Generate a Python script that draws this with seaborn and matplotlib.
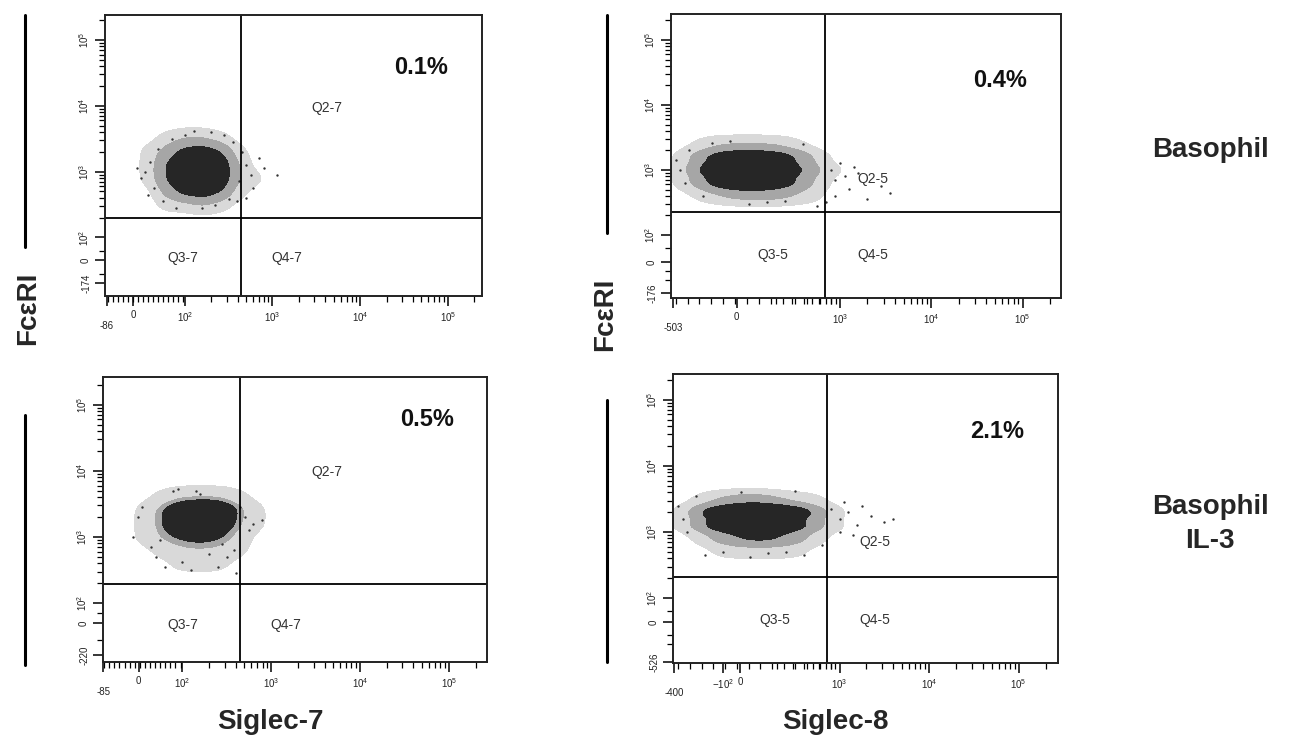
import numpy as np
import pandas as pd
import matplotlib
matplotlib.use("Agg")
import matplotlib.pyplot as plt
import seaborn as sns
from matplotlib.colors import ListedColormap

sns.set_theme(style="ticks")
plt.rcParams['font.family'] = ['Liberation Sans', 'DejaVu Sans']
plt.rcParams['mathtext.fontset'] = 'custom'
plt.rcParams['mathtext.rm'] = 'Liberation Sans'

# ---------------- DATA (axis units: decades of a logicle-like display) -------------
# Coarse density grids of each event cloud (rows top->bottom)
tl_gx = [1.6, 1.8, 2.0, 2.2, 2.4, 2.6, 2.8]
tl_gy = [3.5, 3.3, 3.1, 2.9, 2.7, 2.5]
tl_dens = [[0, 1, 2, 2, 1, 0, 0],
           [1, 3, 6, 7, 5, 1, 0],
           [1, 5, 9, 10, 8, 2, 0],
           [1, 5, 9, 10, 8, 2, 1],
           [0, 3, 6, 7, 5, 1, 0],
           [0, 1, 1, 2, 1, 0, 0]]
tl_ox = [1.55, 1.5, 1.6, 1.65, 2.7, 2.75, 2.9, 3.05, 2.7, 2.6, 2.3, 2.45, 1.9, 2.2, 2.85,
         1.45, 1.7, 1.75, 2.55, 2.65, 2.0, 2.35, 1.58, 2.78, 2.1, 1.85, 2.5, 2.62]
tl_oy = [3.0, 2.9, 3.15, 2.75, 3.1, 2.95, 3.05, 2.95, 2.6, 2.55, 3.6, 3.55, 2.45, 2.45, 3.2,
         3.05, 3.35, 2.55, 3.45, 3.3, 3.55, 2.5, 2.65, 2.75, 3.62, 3.5, 2.58, 2.85]

tr_gx = [1.3, 1.5, 1.7, 1.9, 2.1, 2.3, 2.5, 2.7, 2.9]
tr_gy = [3.4, 3.2, 3.0, 2.8, 2.6]
tr_dens = [[0, 1, 2, 2, 2, 2, 1, 0, 0],
           [1, 4, 7, 8, 8, 7, 5, 2, 0],
           [1, 6, 9, 10, 10, 9, 6, 3, 1],
           [1, 4, 7, 8, 8, 7, 5, 2, 0],
           [0, 1, 2, 3, 3, 3, 2, 1, 0]]
tr_ox = [2.9, 2.95, 3.05, 3.1, 3.2, 3.45, 3.55, 2.95, 1.25, 1.3, 3.0, 3.3, 2.85, 1.2,
         1.35, 1.5, 2.2, 2.4, 1.8, 2.6, 2.75, 3.15, 1.6, 2.0]
tr_oy = [3.0, 2.85, 2.9, 2.7, 2.95, 2.75, 2.65, 2.6, 3.0, 2.8, 3.1, 2.55, 2.5, 3.15,
         3.3, 2.6, 2.5, 2.52, 3.45, 3.4, 2.45, 3.05, 3.42, 2.48]

bl_gx = [1.6, 1.8, 2.0, 2.2, 2.4, 2.6, 2.8]
bl_gy = [3.6, 3.4, 3.2, 3.0, 2.8, 2.6]
bl_dens = [[0, 1, 2, 2, 2, 1, 0],
           [1, 4, 8, 10, 9, 4, 1],
           [1, 4, 8, 10, 8, 3, 1],
           [1, 3, 4, 5, 4, 2, 0],
           [0, 1, 2, 2, 2, 1, 0],
           [0, 0, 1, 1, 1, 0, 0]]
bl_ox = [1.5, 1.45, 2.7, 2.75, 2.8, 1.8, 2.1, 2.4, 2.5, 1.7, 2.9, 2.2, 1.9, 2.6,
         1.55, 1.65, 2.0, 2.3, 2.45, 2.58, 1.95, 2.15, 2.65, 1.75]
bl_oy = [3.3, 3.0, 3.3, 3.1, 3.2, 2.55, 2.5, 2.55, 2.7, 2.7, 3.25, 3.65, 3.7, 2.45,
         3.45, 2.85, 2.62, 2.75, 2.9, 2.8, 3.72, 3.7, 3.45, 2.95]

br_gx = [1.3, 1.5, 1.7, 1.9, 2.1, 2.3, 2.5, 2.7, 2.9]
br_gy = [3.5, 3.3, 3.1, 2.9, 2.7]
br_dens = [[0, 1, 2, 3, 3, 2, 1, 1, 0],
           [1, 5, 8, 9, 10, 9, 7, 4, 1],
           [1, 4, 7, 8, 9, 8, 6, 3, 1],
           [0, 1, 3, 4, 5, 4, 3, 1, 0],
           [0, 0, 1, 1, 1, 1, 1, 0, 0]]
br_ox = [2.9, 3.0, 3.1, 3.2, 3.35, 3.5, 3.6, 3.0, 3.15, 1.25, 1.3, 1.5, 1.7, 2.4,
         1.2, 1.4, 2.0, 2.2, 2.6, 2.8, 3.25, 3.05, 1.9, 2.5]
br_oy = [3.35, 3.2, 3.3, 3.1, 3.25, 3.15, 3.2, 3.0, 2.95, 3.2, 3.0, 2.65, 2.7, 2.7,
         3.4, 3.55, 2.62, 2.68, 2.65, 2.8, 3.4, 3.45, 3.6, 3.62]

percents = ["0.1%", "0.4%", "0.5%", "2.1%"]
quad_left = ["Q2-7", "Q3-7", "Q4-7"]
quad_right = ["Q2-5", "Q3-5", "Q4-5"]
row_labels = ["Basophil", "Basophil\nIL-3"]
x_titles = ["Siglec-7", "Siglec-8"]
y_title = "FcεRI"

# x tick labels per panel
tl_xlabels = ["\n-86", "0", "$10^2$", "$10^3$", "$10^4$", "$10^5$"]
tr_xlabels = ["\n-503", "0", "$10^3$", "$10^4$", "$10^5$"]
bl_xlabels = ["\n-85", "0", "$10^2$", "$10^3$", "$10^4$", "$10^5$"]
br_xlabels = ["\n-400", "$-10^2$", "0", "$10^3$", "$10^4$", "$10^5$"]
tl_ylabels = ["-174", "0", "$10^2$", "$10^3$", "$10^4$", "$10^5$"]
tr_ylabels = ["-176", "0", "$10^2$", "$10^3$", "$10^4$", "$10^5$"]
bl_ylabels = ["-220", "0", "$10^2$", "$10^3$", "$10^4$", "$10^5$"]
br_ylabels = ["-526", "0", "$10^2$", "$10^3$", "$10^4$", "$10^5$"]

# ---------------- LAYOUT ----------------
W, H = 1306, 745
fig = plt.figure(figsize=(W / 100, H / 100), dpi=100)
fig.patch.set_facecolor("white")


def px_rect(l, r, t, b):
    return [l / W, 1 - b / H, (r - l) / W, (b - t) / H]


panels = [
    dict(rect=px_rect(105, 482, 15, 296), xlim=(1.09, 5.39), ylim=(1.11, 5.38),
         gx=tl_gx, gy=tl_gy, dens=tl_dens, ox=tl_ox, oy=tl_oy, gate=(2.64, 2.30),
         xt=[1.11, 1.41, 2, 3, 4, 5], xl=tl_xlabels, yt=[1.30, 1.65, 2, 3, 4, 5], yl=tl_ylabels,
         pct=percents[0], pct_pos=(4.70, 4.58), quads=quad_left,
         qpos=[(3.62, 3.97), (1.98, 1.68), (3.16, 1.68)], lowx=(1.12, 1.98, 16), lowy=[1.3, 1.45, 1.65, 1.8]),
    dict(rect=px_rect(671, 1061, 14, 298), xlim=(1.15, 5.42), ylim=(1.03, 5.40),
         gx=tr_gx, gy=tr_gy, dens=tr_dens, ox=tr_ox, oy=tr_oy, gate=(2.84, 2.35),
         xt=[1.17, 1.87, 3, 4, 5], xl=tr_xlabels, yt=[1.11, 1.58, 2, 3, 4, 5], yl=tr_ylabels,
         pct=percents[1], pct_pos=(4.75, 4.38), quads=quad_right,
         qpos=[(3.36, 2.86), (2.27, 1.69), (3.36, 1.69)], lowx=(1.2, 2.9, 14), lowy=[1.11, 1.3, 1.45, 1.58, 1.8]),
    dict(rect=px_rect(103, 487, 377, 662), xlim=(1.107, 5.43), ylim=(1.11, 5.42),
         gx=bl_gx, gy=bl_gy, dens=bl_dens, ox=bl_ox, oy=bl_oy, gate=(2.65, 2.29),
         xt=[1.11, 1.51, 2, 3, 4, 5], xl=bl_xlabels, yt=[1.21, 1.70, 2, 3, 4, 5], yl=bl_ylabels,
         pct=percents[2], pct_pos=(4.76, 4.77), quads=quad_left,
         qpos=[(3.63, 3.98), (2.0, 1.67), (3.17, 1.67)], lowx=(1.12, 1.98, 16), lowy=[1.21, 1.45, 1.70, 1.85]),
    dict(rect=px_rect(673, 1058, 374, 663), xlim=(1.14, 5.44), ylim=(1.02, 5.39),
         gx=br_gx, gy=br_gy, dens=br_dens, ox=br_ox, oy=br_oy, gate=(2.86, 2.32),
         xt=[1.15, 1.70, 1.89, 3, 4, 5], xl=br_xlabels, yt=[1.03, 1.64, 2, 3, 4, 5], yl=br_ylabels,
         pct=percents[3], pct_pos=(4.76, 4.52), quads=quad_right,
         qpos=[(3.39, 2.85), (2.28, 1.67), (3.39, 1.67)], lowx=(1.2, 2.9, 14), lowy=[1.03, 1.3, 1.45, 1.64, 1.8]),
]

cloud_cmap = ListedColormap(["#d9d9d9", "#a6a6a6", "#5e5e5e", "#262626", "#000000"])


def log_minor(lo, hi, n0, n1):
    vals = [n + np.log10(k) for n in range(n0, n1 + 1) for k in range(2, 10)]
    return [v for v in vals if lo < v < hi]


for p in panels:
    ax = fig.add_axes(p["rect"])
    ax.set_facecolor("white")
    X, Y = np.meshgrid(p["gx"], p["gy"])
    df = pd.DataFrame({"x": X.ravel(), "y": Y.ravel(),
                       "w": np.asarray(p["dens"], float).ravel()})
    df = df[df["w"] > 0]
    sns.kdeplot(data=df, x="x", y="y", weights="w", fill=True,
                levels=[0.03, 0.08, 0.16, 0.27, 0.4, 1.0], cmap=cloud_cmap,
                bw_adjust=0.75, ax=ax)
    sns.scatterplot(x=p["ox"], y=p["oy"], s=3, color="#333333", linewidth=0, ax=ax)

    gxv, gyv = p["gate"]
    ax.axvline(gxv, color="black", lw=1.3)
    ax.axhline(gyv, color="black", lw=1.3)
    ax.set_xlim(*p["xlim"])
    ax.set_ylim(*p["ylim"])
    ax.set_xlabel("")
    ax.set_ylabel("")

    ax.set_xticks(p["xt"], p["xl"])
    ax.set_yticks(p["yt"], p["yl"])
    lx0, lx1, nlx = p["lowx"]
    xmin = list(np.linspace(lx0, lx1, nlx)) + log_minor(2, p["xlim"][1], 2, 5)
    ymin = list(p["lowy"]) + log_minor(2, p["ylim"][1], 2, 5)
    ax.set_xticks(xmin, minor=True)
    ax.set_yticks(ymin, minor=True)
    ax.tick_params(axis="both", which="major", direction="out", length=7, width=1.1,
                   labelsize=7, color="black", labelcolor="#222222", pad=3)
    ax.tick_params(axis="both", which="minor", direction="out", length=4, width=0.9,
                   color="black")
    ax.tick_params(axis="y", labelrotation=90)
    for lab in ax.get_yticklabels():
        lab.set_verticalalignment("center")
    for sp in ax.spines.values():
        sp.set_visible(True)
        sp.set_linewidth(1.4)
        sp.set_color("#222222")

    ax.text(*p["pct_pos"], p["pct"], fontsize=17, fontweight="bold",
            ha="center", va="center", color="#111111")
    for q, (qx, qy) in zip(p["quads"], p["qpos"]):
        ax.text(qx, qy, q, fontsize=10, ha="center", va="center", color="#333333")


def ftext(x, y, s, **kw):
    fig.text(x / W, 1 - y / H, s, **kw)


# axis titles
ftext(270, 722, x_titles[0], fontsize=20, fontweight="bold", ha="center", va="center")
ftext(835, 722, x_titles[1], fontsize=20, fontweight="bold", ha="center", va="center")
ftext(28, 308, y_title, fontsize=20, fontweight="bold", ha="center", va="center", rotation=90)
ftext(605, 314, y_title, fontsize=20, fontweight="bold", ha="center", va="center", rotation=90)
ftext(1210, 150, row_labels[0], fontsize=20, fontweight="bold", ha="center", va="center")
ftext(1210, 524, row_labels[1], fontsize=20, fontweight="bold", ha="center", va="center",
      linespacing=1.4)

# decorative vertical bars beside y axes
for (x, y0, y1) in [(25, 15, 247), (25, 415, 665), (607, 15, 233), (607, 400, 662)]:
    fig.add_artist(plt.Line2D([x / W, x / W], [1 - y0 / H, 1 - y1 / H], color="black",
                              lw=2.2, transform=fig.transFigure))

fig.savefig("out.png", dpi=100, facecolor="white")
